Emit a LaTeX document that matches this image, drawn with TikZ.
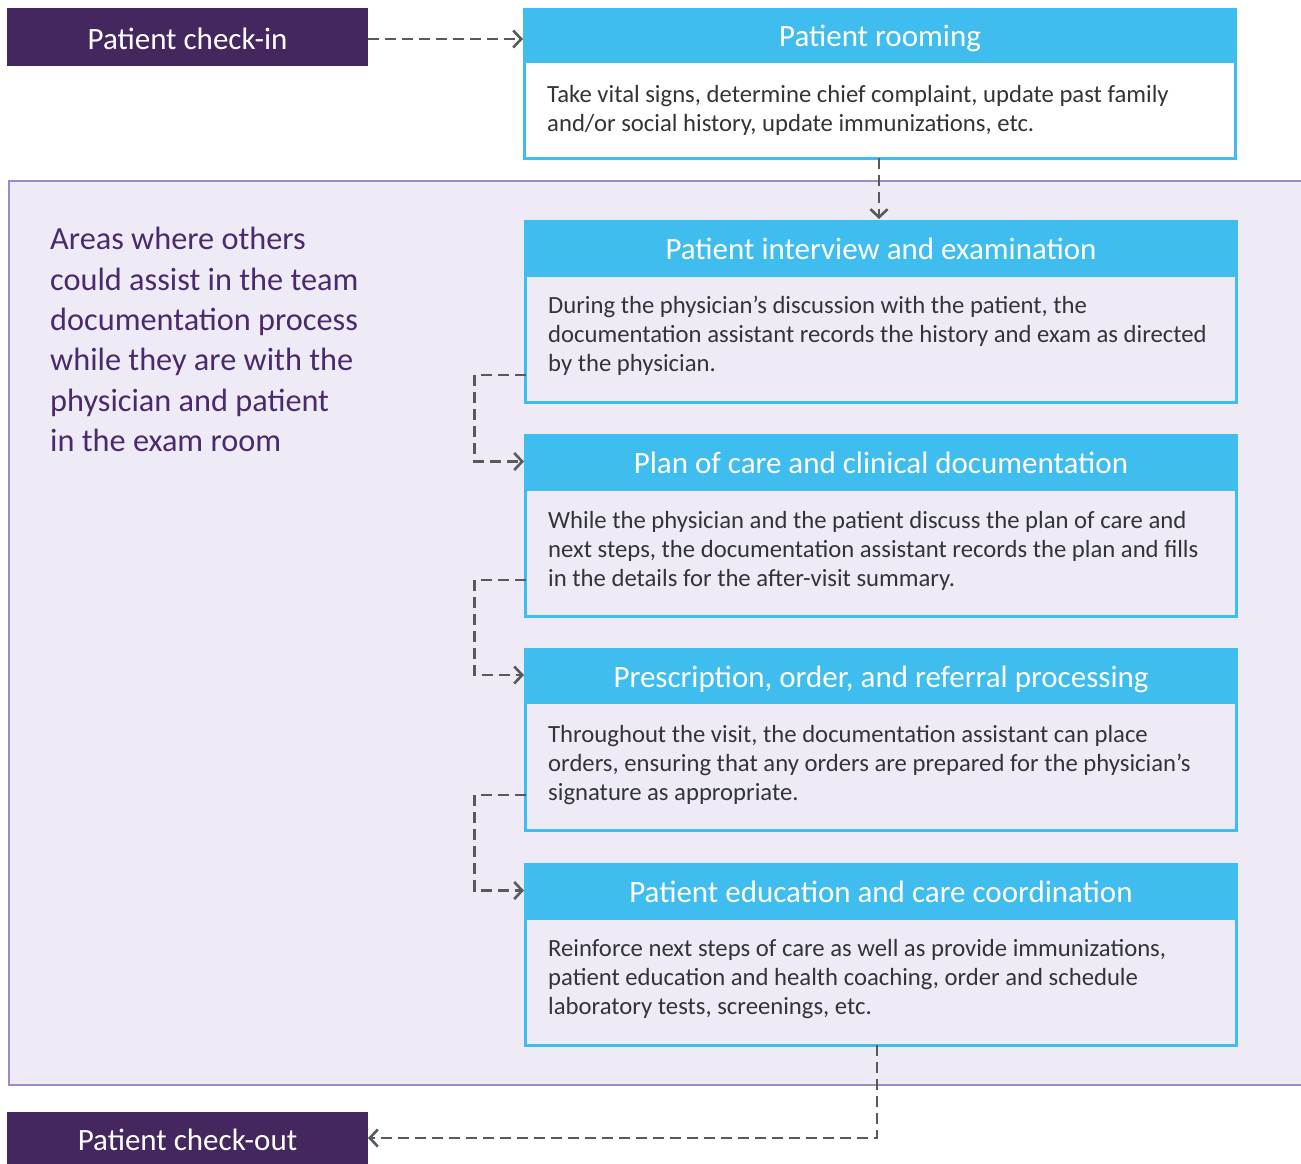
\documentclass[tikz,border=0pt]{standalone}
\usepackage{fontspec}
\setmainfont{Carlito}
\usetikzlibrary{arrows.meta,calc}
\definecolor{dpurple}{HTML}{45275F}
\definecolor{cyanb}{HTML}{3FBDEE}
\definecolor{areafill}{HTML}{EFEBF6}
\definecolor{areadraw}{HTML}{9D8AC7}
\definecolor{lefttext}{HTML}{4A2A6C}
\definecolor{bodytext}{HTML}{333338}
\definecolor{arrowgray}{HTML}{595959}
\tikzset{
  endbox/.style={fill=dpurple, text=white, inner sep=0pt, outer sep=0pt, anchor=north west,
    minimum width=361pt, minimum height=58pt, text height=24pt, text depth=0pt,
    font=\fontsize{31}{34}\selectfont},
  hdr/.style={fill=cyanb, text=white, inner sep=0pt, outer sep=0pt, anchor=north west,
    minimum width=714pt, minimum height=55pt, text height=24pt, text depth=0pt,
    font=\fontsize{31}{34}\selectfont},
  bodybox/.style={draw=cyanb, line width=3pt, inner sep=0pt, outer sep=0pt, anchor=north west,
    minimum width=711pt},
  bodytxt/.style={text=bodytext, inner sep=0pt, anchor=north west, align=left,
    font=\fontsize{24.7}{29}\selectfont},
  conn/.style={draw=arrowgray, line width=2.6pt, dash pattern=on 11pt off 6pt,
    -{Straight Barb[length=8pt,width=17pt,line width=2.6pt]}},
}
\begin{document}
\begin{tikzpicture}[x=1pt,y=-1pt]
\useasboundingbox (0,0) rectangle (1301,1164);
\node[draw=areadraw, fill=areafill, line width=2pt, anchor=north west, inner sep=0pt, outer sep=0pt,
  minimum width=1320pt, minimum height=904pt] (area) at (9,181) {};
\node[text=lefttext, anchor=north west, inner sep=0pt, align=left,
  font=\fontsize{32.3}{40.4}\selectfont] (left) at (50,227)
  {Areas where others\\could assist in the team\\documentation process\\while they are with the\\physician and patient\\in the exam room};

\node[endbox] (ci) at (7,8) {Patient check-in};
\node[endbox, minimum height=52pt] (co) at (7,1112) {Patient check-out};

% Patient rooming
\node[hdr, minimum height=54pt] (h1) at (523,8) {Patient rooming};
\node[bodybox, fill=white, minimum height=96pt] (b1) at (524.5,62) {};
\node[bodytxt] (t1) at (547,85) {Take vital signs, determine chief complaint, update past family\\and/or social history, update immunizations, etc.};

% Interview
\node[hdr] (h2) at (524,220) {Patient interview and examination};
\node[bodybox, minimum height=127pt] (b2) at (525.5,275) {};
\node[bodytxt] (t2) at (548,296) {During the physician’s discussion with the patient, the\\documentation assistant records the history and exam as directed\\by the physician.};

% Plan
\node[hdr] (h3) at (524,434) {Plan of care and clinical documentation};
\node[bodybox, minimum height=127pt] (b3) at (525.5,489) {};
\node[bodytxt] (t3) at (548,511) {While the physician and the patient discuss the plan of care and\\next steps, the documentation assistant records the plan and fills\\in the details for the after-visit summary.};

% Prescription
\node[hdr, minimum height=54pt] (h4) at (524,648) {Prescription, order, and referral processing};
\node[bodybox, minimum height=128pt] (b4) at (525.5,702) {};
\node[bodytxt] (t4) at (548,725) {Throughout the visit, the documentation assistant can place\\orders, ensuring that any orders are prepared for the physician’s\\signature as appropriate.};

% Education
\node[hdr] (h5) at (524,863) {Patient education and care coordination};
\node[bodybox, minimum height=127pt] (b5) at (525.5,918) {};
\node[bodytxt] (t5) at (548,939) {Reinforce next steps of care as well as provide immunizations,\\patient education and health coaching, order and schedule\\laboratory tests, screenings, etc.};

% connectors
\draw[conn] ([yshift=-2pt]ci.east) -- ([yshift=-2pt]ci.east -| h1.west);
\draw[conn] ([xshift=-1pt]b1.south) -- ([xshift=-1pt,yshift=1pt]b1.south |- h2.north);
\draw[conn] ([yshift=27pt]b2.south west) -- ++(-51,0) |- (h3.west);
\draw[conn] ([yshift=36pt]b3.south west) -- ++(-51,0) |- (h4.west);
\draw[conn] ([yshift=35pt]b4.south west) -- ++(-51,0) |- (h5.west);
\draw[conn] ([xshift=-4pt]b5.south) |- (co.east);
\end{tikzpicture}
\end{document}
